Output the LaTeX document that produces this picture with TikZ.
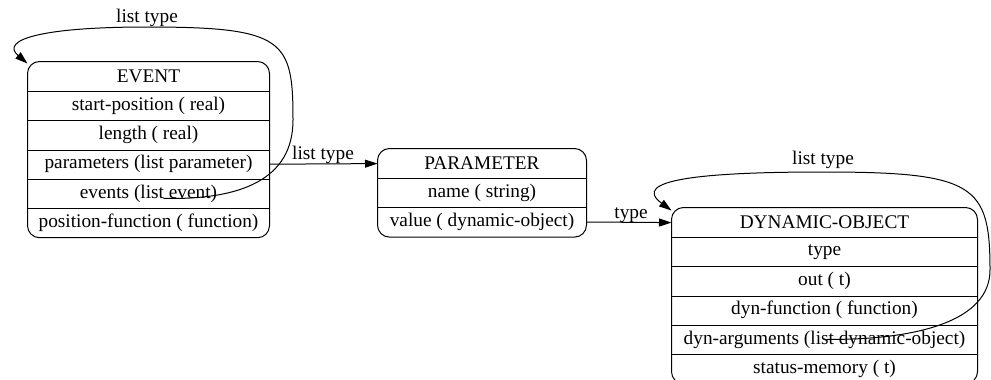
\documentclass[tikz,border=0pt]{standalone}
\usepackage{fontspec}
\setmainfont{Liberation Serif}
\usetikzlibrary{arrows.meta}
\begin{document}
\begin{tikzpicture}[x=1pt,y=-1pt,line width=1pt,
    every node/.style={font=\fontsize{19.3}{23}\selectfont},
    row/.style={minimum width=#1,minimum height=29.2pt,inner sep=0pt},
    box/.style={rounded corners=12pt},
    edgelabel/.style={anchor=base,inner sep=0pt},
    link/.style={-{Triangle[length=12.5pt,width=8pt]}}]
  \useasboundingbox (0,0) rectangle (991,380);
  \draw
    (148.5,76.6) node[row=241pt] (evHead){EVENT}
    (148.5,105.8) node[row=241pt] (evStart){start-position ( real)}
    (148.5,135.0) node[row=241pt] (evLength){length ( real)}
    (148.5,164.2) node[row=241pt] (evParams){parameters (list parameter)}
    (148.5,193.4) node[row=241pt] (evEvents){events (list event)}
    (148.5,222.6) node[row=241pt] (evFun){position-function ( function)};
  \draw
    (482,163.6) node[row=208pt] (pmHead){PARAMETER}
    (482,192.8) node[row=208pt] (pmName){name ( string)}
    (482,222.0) node[row=208pt] (pmValue){value ( dynamic-object)};
  \draw
    (824.5,222.6) node[row=305pt] (doHead){DYNAMIC-OBJECT}
    (824.5,251.8) node[row=305pt] (doType){type}
    (824.5,281.0) node[row=305pt] (doOut){out ( t)}
    (824.5,310.2) node[row=305pt] (doFun){dyn-function ( function)}
    (824.5,339.4) node[row=305pt] (doArgs){dyn-arguments (list dynamic-object)}
    (824.5,368.6) node[row=305pt] (doMem){status-memory ( t)};
  \draw[box] (evHead.north west) rectangle (evFun.south east);
  \draw[box] (pmHead.north west) rectangle (pmValue.south east);
  \draw[box] (doHead.north west) rectangle (doMem.south east);
  \foreach \n in {evHead,evStart,evLength,evParams,evEvents,pmHead,pmName,doHead,doType,doOut,doFun,doArgs}
    \draw (\n.south west) -- (\n.south east);
  \node[edgelabel] (lblEvents) at (147,23) {list type};
  \node[edgelabel] (lblParams) at (323,159) {list type};
  \node[edgelabel] (lblValue) at (631,218) {type};
  \node[edgelabel] (lblArgs) at (823,164) {list type};
  \begin{scope}[link]
    \draw ([xshift=15pt,yshift=-5pt]evEvents.center)
      .. controls (240,200) and (293,180) .. (293,120)
      .. controls (293,40) and (285,27) .. (147,27)
      .. controls (40,27) and (0,40) .. ([yshift=-2pt]evHead.north west);
    \draw (evParams.east) -- (pmHead.west);
    \draw (pmValue.east) -- (doHead.west);
    \draw ([xshift=2pt]doArgs.center)
      .. controls (920,340) and (990,320) .. (990,270)
      .. controls (990,185) and (975,172) .. (823,172)
      .. controls (700,172) and (630,180) .. ([yshift=-3pt]doHead.north west);
  \end{scope}
\end{tikzpicture}
\end{document}
